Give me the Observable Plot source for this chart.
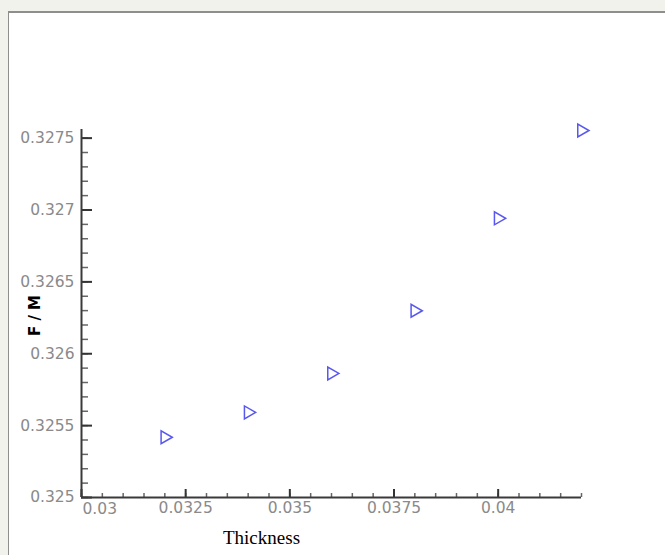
<!DOCTYPE html>
<html><head><meta charset="utf-8">
<script src="https://cdn.jsdelivr.net/npm/d3@7"></script>
<script src="https://cdn.jsdelivr.net/npm/@observablehq/plot@0.6"></script>
<style>
html,body{margin:0;padding:0;background:#f2f2ec;}
#wrap{position:relative;width:665px;height:555px;overflow:hidden;}
#panel{position:absolute;left:8px;top:11px;right:0;bottom:0;background:#fff;border-top:2px solid #8e8e8e;border-left:1px solid #8e8e8e;}
#chart{position:absolute;left:0;top:0;}
</style></head><body>
<div id="wrap"><div id="panel"></div><div id="chart"></div></div>
<script>
// data
const thickness = [0.032, 0.034, 0.036, 0.038, 0.040, 0.042];
const fm = [0.325419, 0.325592, 0.325863, 0.326299, 0.326942, 0.327553];
// ticks
const xMajorTicks = [0.03, 0.0325, 0.035, 0.0375, 0.04];
const yMajorTicks = [0.325, 0.3255, 0.326, 0.3265, 0.327, 0.3275];
const xMinorTicks = d3.range(0, 25).map(i => +(0.03 + i * 0.0005).toFixed(4));
const yMinorTicks = d3.range(0, 26).map(i => +(0.325 + i * 0.0001).toFixed(4));
const xLabel = "Thickness";
const yLabel = "F / M";

const points = thickness.map((t, i) => ({t, v: fm[i]}));

const chart = Plot.plot({
  width: 665,
  height: 555,
  marginLeft: 81,
  marginRight: 84,
  marginTop: 129,
  marginBottom: 58,
  style: {background: "transparent", fontFamily: "DejaVu Sans"},
  x: {domain: [0.03, 0.042]},
  y: {domain: [0.325, 0.32756]},
  marks: [
    // minor ticks
    Plot.axisX(xMinorTicks, {anchor: "bottom", tickSize: -4, tickFormat: () => "", stroke: "#666", strokeWidth: 1.5, label: null}),
    Plot.axisY(yMinorTicks, {anchor: "left", tickSize: -7, tickFormat: () => "", stroke: "#666", strokeWidth: 1.5, label: null}),
    // major ticks
    Plot.axisX(xMajorTicks, {anchor: "bottom", tickSize: -8, tickFormat: () => "", stroke: "#333", strokeWidth: 2, label: null}),
    Plot.axisY(yMajorTicks, {anchor: "left", tickSize: -11, tickFormat: () => "", stroke: "#333", strokeWidth: 2, label: null}),
    // tick labels
    Plot.axisX(xMajorTicks.slice(1), {anchor: "bottom", tickSize: 0, tickPadding: 4, tickFormat: d => String(d), fontSize: 15.5, fill: "#8a8a8a", label: null}),
    Plot.text([xMajorTicks[0]], {x: d => d, frameAnchor: "bottom", textAnchor: "start", lineAnchor: "top", dx: 1, dy: 5, text: d => String(d), fontSize: 15.5, fill: "#8a8a8a"}),
    Plot.axisY(yMajorTicks, {anchor: "left", tickSize: 0, tickPadding: 7, tickFormat: d => String(d), fontSize: 15.5, fill: "#8a8a8a", label: null}),
    // axis lines
    Plot.ruleY([0.325], {stroke: "#3a3a3a", strokeWidth: 2}),
    Plot.ruleX([0.03], {stroke: "#3a3a3a", strokeWidth: 2}),
    // titles
    Plot.text([yLabel], {frameAnchor: "left", textAnchor: "middle", dx: -46, dy: 2, rotate: -90, fontWeight: "bold", fontSize: 15, fill: "#000", fontFamily: "DejaVu Sans"}),
    Plot.text([xLabel], {frameAnchor: "bottom", dx: -70, dy: 46, fontSize: 19, fill: "#000", fontFamily: "Liberation Serif"}),
    // data
    Plot.dot(points, {x: "t", y: "v", symbol: "triangle", rotate: 90, r: 4.8, stroke: "#5858f0", strokeWidth: 1.5, fill: "none"})
  ]
});
document.getElementById("chart").appendChild(chart);
</script>
</body></html>
